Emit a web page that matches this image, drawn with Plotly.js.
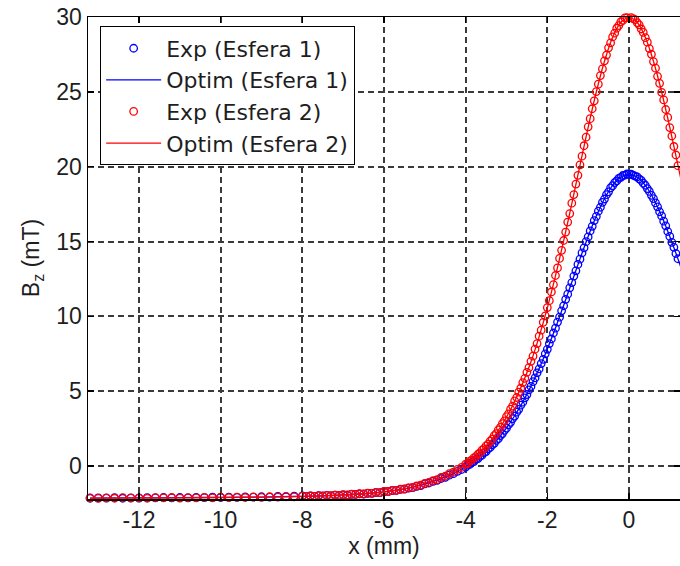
<!DOCTYPE html>
<html>
<head>
<meta charset="utf-8">
<script src="https://cdn.plot.ly/plotly-3.0.1.min.js"></script>
<style>html,body{margin:0;padding:0;background:#fff;}#chart{width:680px;height:566px;}</style>
</head>
<body>
<div id="chart"></div>
<script>
// Experimental sample positions (mm): far tail, near tail, peak region
const expXTail = [-13.2,-13.0,-12.8,-12.6,-12.4,-12.2,-12.0,-11.8,-11.6,-11.4,-11.2,-11.0,-10.8,-10.6,-10.4,-10.2,-10.0,-9.8,-9.6,-9.4,-9.2,-9.0,-8.8,-8.6,-8.4,-8.2];
const expXNear = [-8.0,-7.9,-7.8,-7.7,-7.6,-7.5,-7.4,-7.3,-7.2,-7.1,-7.0,-6.9,-6.8,-6.7,-6.6,-6.5,-6.4,-6.3,-6.2,-6.1,-6.0,-5.9,-5.8,-5.7,-5.6,-5.5,-5.4,-5.3,-5.2,-5.1,-5.0,-4.9,-4.8,-4.7,-4.6,-4.5,-4.4,-4.3,-4.2,-4.1];
const expXPeak = [-4.00,-3.95,-3.90,-3.85,-3.80,-3.75,-3.70,-3.65,-3.60,-3.55,-3.50,-3.45,-3.40,-3.35,-3.30,-3.25,-3.20,-3.15,-3.10,-3.05,
  -3.00,-2.95,-2.90,-2.85,-2.80,-2.75,-2.70,-2.65,-2.60,-2.55,-2.50,-2.45,-2.40,-2.35,-2.30,-2.25,-2.20,-2.15,-2.10,-2.05,
  -2.00,-1.95,-1.90,-1.85,-1.80,-1.75,-1.70,-1.65,-1.60,-1.55,-1.50,-1.45,-1.40,-1.35,-1.30,-1.25,-1.20,-1.15,-1.10,-1.05,
  -1.00,-0.95,-0.90,-0.85,-0.80,-0.75,-0.70,-0.65,-0.60,-0.55,-0.50,-0.45,-0.40,-0.35,-0.30,-0.25,-0.20,-0.15,-0.10,-0.05,
  0.00,0.05,0.10,0.15,0.20,0.25,0.30,0.35,0.40,0.45,0.50,0.55,0.60,0.65,0.70,0.75,0.80,0.85,0.90,0.95,1.00,1.05,1.10,1.15,1.20];

// Exp (Esfera 1) - Bz (mT)
const exp1Tail = [-2.15,-2.12,-2.14,-2.11,-2.15,-2.12,-2.14,-2.11,-2.13,-2.10,-2.13,-2.10,-2.12,-2.09,-2.11,-2.08,-2.10,-2.07,-2.09,-2.06,-2.08,-2.05,-2.07,-2.03,-2.05,-2.01];
const exp1Near = [-2.00,-2.03,-1.99,-2.02,-1.97,-2.00,-1.96,-1.99,-1.94,-1.96,-1.92,-1.94,-1.89,-1.90,-1.86,-1.87,-1.82,-1.82,-1.77,-1.77,
  -1.71,-1.70,-1.64,-1.62,-1.56,-1.54,-1.47,-1.44,-1.36,-1.30,-1.19,-1.13,-1.02,-0.95,-0.83,-0.75,-0.61,-0.51,-0.35,-0.23];
const exp1Peak = [-0.07,0.06,0.11,0.24,0.30,0.44,0.50,0.65,0.73,0.89,0.97,1.14,1.24,1.42,1.52,1.71,1.83,2.04,2.17,2.39,
  2.53,2.76,2.92,3.17,3.34,3.60,3.79,4.07,4.27,4.56,4.78,5.09,5.32,5.64,5.89,6.23,6.49,6.85,7.13,7.50,
  7.80,8.18,8.49,8.89,9.21,9.62,9.95,10.37,10.71,11.14,11.48,11.91,12.26,12.69,13.04,13.47,13.82,14.24,14.58,14.99,
  15.31,15.71,16.02,16.40,16.68,17.03,17.29,17.62,17.84,18.13,18.32,18.58,18.73,18.94,19.05,19.22,19.29,19.41,19.43,19.51,
  19.49,19.50,19.44,19.37,19.32,19.18,19.08,18.90,18.76,18.54,18.35,18.09,17.87,17.58,17.32,16.99,16.71,16.36,16.05,15.67,15.34,14.95,14.61,14.20,13.85];

// Exp (Esfera 2) - Bz (mT)
const exp2Tail = [-2.12,-2.16,-2.13,-2.15,-2.11,-2.14,-2.12,-2.15,-2.11,-2.13,-2.10,-2.14,-2.11,-2.12,-2.09,-2.13,-2.08,-2.11,-2.07,-2.10,-2.06,-2.09,-2.05,-2.07,-2.03,-2.06];
const exp2Near = [-2.01,-2.04,-2.00,-2.02,-1.98,-2.01,-1.96,-1.98,-1.94,-1.96,-1.91,-1.93,-1.88,-1.90,-1.85,-1.86,-1.81,-1.82,-1.76,-1.77,
  -1.70,-1.70,-1.63,-1.62,-1.55,-1.53,-1.46,-1.43,-1.33,-1.27,-1.15,-1.09,-0.97,-0.90,-0.76,-0.68,-0.51,-0.41,-0.22,-0.09];
const exp2Peak = [0.13,0.18,0.33,0.40,0.55,0.63,0.79,0.88,1.06,1.16,1.35,1.47,1.67,1.80,2.03,2.17,2.42,2.58,2.84,3.02,
  3.30,3.49,3.80,4.01,4.35,4.58,4.94,5.20,5.58,5.86,6.26,6.57,7.00,7.34,7.81,8.18,8.68,9.08,9.60,10.03,
  10.59,11.05,11.63,12.12,12.73,13.24,13.87,14.41,15.07,15.63,16.30,16.87,17.56,18.14,18.84,19.42,20.12,20.70,21.40,21.97,
  22.66,23.21,23.87,24.40,25.02,25.51,26.09,26.53,27.07,27.46,27.94,28.27,28.67,28.92,29.25,29.43,29.68,29.77,29.94,29.95,
  30.03,29.96,29.89,29.82,29.63,29.48,29.20,28.97,28.62,28.32,27.89,27.51,27.02,26.58,26.04,25.57,24.97,24.46,23.82,23.29,22.61,22.05,21.35,20.78,20.07];

// Optimised model positions (mm)
const optX = [-13.2,-12,-11,-10,-9,-8.5,-8,-7.5,-7,-6.5,-6,-5.5,-5.0,-4.8,-4.6,-4.4,-4.2,-4.0,-3.8,-3.6,-3.4,-3.2,-3.0,-2.8,-2.6,-2.4,-2.2,-2.0,-1.8,-1.6,-1.4,-1.2,-1.0,-0.8,-0.6,-0.4,-0.2,0,0.2,0.4,0.6,0.8,1.0,1.2,1.4];
// Optim (Esfera 1)
const optEsfera1 = [-2.14,-2.13,-2.11,-2.09,-2.07,-2.045,-2.02,-1.985,-1.93,-1.85,-1.72,-1.53,-1.20,-1.03,-0.84,-0.62,-0.36,-0.05,0.32,0.75,1.26,1.85,2.55,3.36,4.29,5.34,6.51,7.82,9.23,10.73,12.28,13.84,15.33,16.70,17.86,18.75,19.31,19.50,19.31,18.75,17.86,16.70,15.33,13.84,12.28];
// Optim (Esfera 2)
const optEsfera2 = [-2.14,-2.13,-2.12,-2.10,-2.08,-2.055,-2.03,-1.99,-1.93,-1.85,-1.72,-1.52,-1.15,-0.98,-0.78,-0.53,-0.24,0.11,0.53,1.04,1.65,2.39,3.27,4.32,5.55,6.97,8.65,10.56,12.70,15.04,17.53,20.09,22.63,24.99,27.04,28.64,29.65,30.00,29.65,28.64,27.04,24.99,22.63,20.09,17.53];

const names = ['Exp (Esfera 1)','Optim (Esfera 1)','Exp (Esfera 2)','Optim (Esfera 2)'];
const xTicks = [-12,-10,-8,-6,-4,-2,0];
const yTicks = [0,5,10,15,20,25,30];

const expX = expXTail.concat(expXNear, expXPeak);
const expEsfera1 = exp1Tail.concat(exp1Near, exp1Peak);
const expEsfera2 = exp2Tail.concat(exp2Near, exp2Peak);

const BLUE = '#0000ff', RED = '#ff0000';
const FONT = 'Arial, "Liberation Sans", Helvetica, sans-serif';
const LEGFONT = '"DejaVu Sans", Arial, sans-serif';
const TXT = '#1e1e1e';

const traces = [
  {x: expX, y: expEsfera1, name: names[0], type: 'scatter', mode: 'markers', cliponaxis: false,
   marker: {symbol: 'circle-open', size: 7.5, color: BLUE, line: {width: 1.3, color: BLUE}}},
  {x: optX, y: optEsfera1, name: names[1], type: 'scatter', mode: 'lines',
   line: {color: BLUE, width: 1.3, shape: 'spline', smoothing: 0.6}},
  {x: expX, y: expEsfera2, name: names[2], type: 'scatter', mode: 'markers', cliponaxis: false,
   marker: {symbol: 'circle-open', size: 7.5, color: RED, line: {width: 1.3, color: RED}}},
  {x: optX, y: optEsfera2, name: names[3], type: 'scatter', mode: 'lines',
   line: {color: RED, width: 1.3, shape: 'spline', smoothing: 0.6}}
];

const axisCommon = {
  showline: true, linecolor: '#000', linewidth: 1.5, mirror: 'ticks',
  ticks: 'inside', ticklen: 6, tickwidth: 1.5, tickcolor: '#000',
  showgrid: true, gridcolor: '#3a3a3a', gridwidth: 2, griddash: '6px,4px',
  zeroline: false, tickfont: {family: FONT, size: 23, color: TXT}
};

const layout = {
  width: 680, height: 566,
  margin: {l: 88, r: 0, t: 17, b: 67},
  paper_bgcolor: '#fff', plot_bgcolor: '#fff',
  showlegend: true,
  legend: {x: 0.02, y: 0.981, xanchor: 'left', yanchor: 'top',
    bgcolor: '#fff', bordercolor: '#000', borderwidth: 1.3,
    font: {family: LEGFONT, size: 22, color: TXT}, itemwidth: 55, tracegroupgap: 0},
  xaxis: Object.assign({}, axisCommon, {
    range: [-13.25, 1.25], tickvals: xTicks, ticktext: xTicks.map(String),
    title: {text: 'x (mm)', font: {family: FONT, size: 23, color: TXT}, standoff: 6}
  }),
  yaxis: Object.assign({}, axisCommon, {
    range: [-2.2, 30], tickvals: yTicks, ticktext: yTicks.map(String),
    title: {text: 'B<sub>z</sub> (mT)', font: {family: FONT, size: 23, color: TXT}, standoff: 10}
  })
};

Plotly.newPlot('chart', traces, layout, {staticPlot: true, displayModeBar: false});
</script>
</body>
</html>
